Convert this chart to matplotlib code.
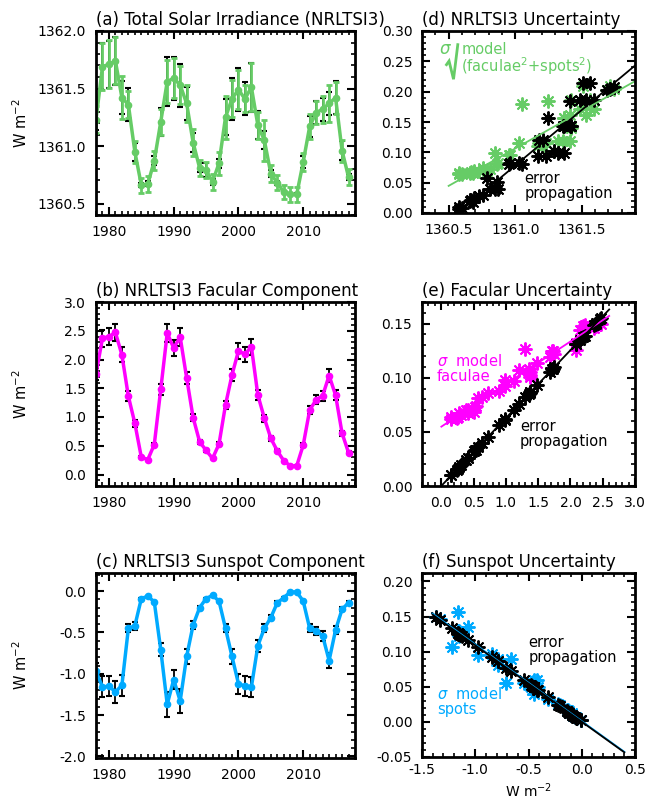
import matplotlib
matplotlib.use("Agg")
import matplotlib.pyplot as plt
from matplotlib.ticker import MultipleLocator, FormatStrFormatter
import numpy as np

years = np.arange(1978, 2018)

# (a) total solar irradiance, W m-2
tsi = [1361.23, 1361.69, 1361.71, 1361.74, 1361.42, 1361.36, 1360.95, 1360.66,
       1360.67, 1360.87, 1361.21, 1361.56, 1361.59, 1361.53, 1361.37, 1361.03,
       1360.81, 1360.79, 1360.69, 1360.85, 1361.25, 1361.41, 1361.49, 1361.41,
       1361.51, 1361.18, 1361.05, 1360.76, 1360.68, 1360.60, 1360.58, 1360.58,
       1360.86, 1361.17, 1361.29, 1361.32, 1361.37, 1361.42, 1360.96, 1360.73]
tsi_sig_prop = [0.094, 0.203, 0.205, 0.208, 0.143, 0.143, 0.080, 0.020,
                0.022, 0.039, 0.121, 0.214, 0.187, 0.187, 0.143, 0.082,
                0.040, 0.058, 0.025, 0.039, 0.157, 0.184, 0.187, 0.143,
                0.214, 0.121, 0.080, 0.030, 0.018, 0.008, 0.006, 0.010,
                0.051, 0.094, 0.102, 0.099, 0.099, 0.143, 0.083, 0.028]
tsi_sig_model = [0.116, 0.203, 0.209, 0.205, 0.187, 0.118, 0.096, 0.066,
                 0.068, 0.083, 0.110, 0.187, 0.171, 0.162, 0.157, 0.116,
                 0.072, 0.070, 0.069, 0.099, 0.185, 0.162, 0.171, 0.118,
                 0.209, 0.116, 0.179, 0.075, 0.066, 0.065, 0.064, 0.066,
                 0.080, 0.110, 0.102, 0.118, 0.157, 0.140, 0.096, 0.070]

# (b) facular component
fac = [1.75, 2.37, 2.40, 2.47, 2.08, 1.36, 0.89, 0.30, 0.26, 0.52,
       1.48, 2.46, 2.20, 2.39, 1.68, 0.99, 0.57, 0.42, 0.28, 0.53,
       1.21, 1.73, 2.15, 2.09, 2.22, 1.38, 0.98, 0.63, 0.41, 0.24,
       0.15, 0.15, 0.51, 1.12, 1.30, 1.37, 1.72, 1.38, 0.72, 0.38]
fac_sig_prop = [0.110, 0.149, 0.151, 0.155, 0.131, 0.085, 0.056, 0.019, 0.016, 0.033,
                0.093, 0.154, 0.138, 0.150, 0.105, 0.062, 0.036, 0.026, 0.018, 0.033,
                0.076, 0.108, 0.135, 0.131, 0.139, 0.087, 0.061, 0.040, 0.026, 0.015,
                0.010, 0.010, 0.032, 0.070, 0.082, 0.086, 0.108, 0.087, 0.045, 0.024]
fac_sig_model = [0.122, 0.146, 0.148, 0.150, 0.132, 0.108, 0.088, 0.066, 0.064, 0.073,
                 0.114, 0.151, 0.148, 0.149, 0.119, 0.092, 0.081, 0.070, 0.067, 0.074,
                 0.107, 0.125, 0.144, 0.126, 0.149, 0.103, 0.098, 0.082, 0.067, 0.063,
                 0.064, 0.062, 0.068, 0.097, 0.127, 0.101, 0.125, 0.105, 0.086, 0.070]

# (c) sunspot component
spot = [-0.97, -1.16, -1.15, -1.22, -1.14, -0.45, -0.42, -0.09, -0.06, -0.13,
        -0.71, -1.37, -1.07, -1.33, -0.79, -0.41, -0.20, -0.09, -0.05, -0.12,
        -0.45, -0.79, -1.12, -1.15, -1.16, -0.66, -0.45, -0.32, -0.14, -0.08,
        -0.01, -0.01, -0.12, -0.45, -0.48, -0.54, -0.84, -0.47, -0.22, -0.14]
spot_sig_prop = [0.106, 0.127, 0.125, 0.133, 0.124, 0.049, 0.046, 0.010, 0.007, 0.014,
                 0.077, 0.150, 0.117, 0.145, 0.086, 0.045, 0.022, 0.010, 0.006, 0.013,
                 0.049, 0.086, 0.122, 0.125, 0.126, 0.072, 0.049, 0.035, 0.015, 0.009,
                 0.002, 0.002, 0.013, 0.049, 0.052, 0.059, 0.092, 0.051, 0.024, 0.015]
spot_sig_model = [0.095, 0.156, 0.129, 0.106, 0.128, 0.045, 0.060, 0.010, 0.007, 0.017,
                  0.055, 0.150, 0.135, 0.146, 0.090, 0.050, 0.024, 0.012, 0.007, 0.015,
                  0.055, 0.081, 0.125, 0.123, 0.130, 0.089, 0.040, 0.033, 0.016, 0.009,
                  0.003, 0.002, 0.013, 0.060, 0.049, 0.055, 0.097, 0.045, 0.026, 0.017]

GREEN = "#66cc66"
MAGENTA = "#ff00ff"
BLUE = "#00aaff"

plt.rcParams["font.family"] = "DejaVu Sans"
plt.rcParams["mathtext.fontset"] = "dejavusans"

fig = plt.figure(figsize=(6.46, 7.99), dpi=100)

W, H = 646.0, 799.0
TFS = 12      # titles
AFS = 10.5    # annotations


def make_axes(left, right, top, bottom):
    return fig.add_axes([left / W, 1 - bottom / H, (right - left) / W, (bottom - top) / H])


def style(ax, xmaj, xmin, ymaj, ymin, xfmt, yfmt):
    ax.xaxis.set_major_locator(MultipleLocator(xmaj))
    ax.xaxis.set_minor_locator(MultipleLocator(xmin))
    ax.yaxis.set_major_locator(MultipleLocator(ymaj))
    ax.yaxis.set_minor_locator(MultipleLocator(ymin))
    ax.xaxis.set_major_formatter(FormatStrFormatter(xfmt))
    ax.yaxis.set_major_formatter(FormatStrFormatter(yfmt))
    ax.tick_params(which="both", direction="in", top=True, right=True, labelsize=10)
    ax.tick_params(which="major", length=6, width=1.5, pad=7)
    ax.tick_params(which="minor", length=3, width=1.2)
    for s in ax.spines.values():
        s.set_linewidth(2)


def time_panel(ax, vals, sig_prop, color, title, ylim, ymaj, sig_model=None):
    ax.errorbar(years, vals, yerr=sig_prop, fmt="none", ecolor="k",
                elinewidth=1.3, capsize=2.5, capthick=1.5)
    if sig_model is not None:
        ax.errorbar(years, vals, yerr=sig_model, fmt="none", ecolor=color,
                    elinewidth=2, capsize=2.5, capthick=2)
    ax.plot(years, vals, color=color, lw=2.5, marker="o", ms=4.5)
    ax.set_xlim(1978, 2018)
    ax.set_ylim(*ylim)
    style(ax, 10, 1, ymaj, 0.1, "%d", "%.1f")
    ax.set_title(title, loc="left", fontsize=TFS, pad=4)
    ax.set_ylabel("W m$^{-2}$", fontsize=AFS)
    ax.yaxis.set_label_coords(-0.255, 0.5)


def scatter_panel(ax, x, y_model, y_prop, color, fit_range, title, xlim, ylim,
                  xmaj, xmin, ymaj, ymin, xfmt, yfmt):
    ast = (8, 2, 0)
    ax.plot(x, y_model, ls="none", marker=ast, ms=10, mew=1.4, color=color)
    ax.plot(x, y_prop, ls="none", marker=ast, ms=10, mew=1.4, color="k")
    xx = np.linspace(*fit_range, 50)
    ax.plot(xx, np.polyval(np.polyfit(x, y_model, 1), xx), color=color, lw=1.3)
    ax.plot(xx, np.polyval(np.polyfit(x, y_prop, 1), xx), color="k", lw=1.3)
    ax.set_xlim(*xlim)
    ax.set_ylim(*ylim)
    style(ax, xmaj, xmin, ymaj, ymin, xfmt, yfmt)
    ax.set_title(title, loc="left", fontsize=TFS, pad=4)


L0, L1 = 96, 355
R0, R1 = 422, 635

ax_a = make_axes(L0, L1, 31, 215)
time_panel(ax_a, tsi, tsi_sig_prop, GREEN, "(a) Total Solar Irradiance (NRLTSI3)",
           (1360.4, 1362.0), 0.5, sig_model=tsi_sig_model)

ax_b = make_axes(L0, L1, 302, 486)
time_panel(ax_b, fac, fac_sig_prop, MAGENTA, "(b) NRLTSI3 Facular Component",
           (-0.2, 3.0), 0.5)

ax_c = make_axes(L0, L1, 573, 758)
time_panel(ax_c, spot, spot_sig_prop, BLUE, "(c) NRLTSI3 Sunspot Component",
           (-2.02, 0.22), 0.5)

ax_d = make_axes(R0, R1, 31, 213)
scatter_panel(ax_d, tsi, tsi_sig_model, tsi_sig_prop, GREEN, (1360.5, 1362.0),
              "(d) NRLTSI3 Uncertainty", (1360.3, 1361.9), (0.0, 0.30),
              0.5, 0.1, 0.05, 0.01, "%.1f", "%.2f")
ax_d.text(0.08, 0.90, r"$\sigma$", transform=ax_d.transAxes, color=GREEN,
          fontsize=12, fontweight="bold", va="center")
# radical sign drawn as a stroke in axes coordinates
ax_d.plot([0.115, 0.127, 0.148, 0.168], [0.815, 0.835, 0.735, 0.925],
          transform=ax_d.transAxes, color=GREEN, lw=2, solid_joinstyle="miter")
ax_d.text(0.185, 0.90, "model", transform=ax_d.transAxes,
          color=GREEN, fontsize=AFS, va="center")
ax_d.text(0.185, 0.805, "(faculae$^2$+spots$^2$)", transform=ax_d.transAxes,
          color=GREEN, fontsize=AFS, va="center")
ax_d.text(0.48, 0.15, "error\npropagation", transform=ax_d.transAxes, color="k",
          fontsize=AFS, va="center", linespacing=1.0)

ax_e = make_axes(R0, R1, 302, 486)
scatter_panel(ax_e, fac, fac_sig_model, fac_sig_prop, MAGENTA, (0.0, 2.6),
              "(e) Facular Uncertainty", (-0.3, 3.0), (0.0, 0.17),
              0.5, 0.1, 0.05, 0.01, "%.1f", "%.2f")
ax_e.text(0.07, 0.64, r"$\sigma$  model" + "\nfaculae", transform=ax_e.transAxes,
          color=MAGENTA, fontsize=AFS, va="center", linespacing=1.0)
ax_e.text(0.46, 0.28, "error\npropagation", transform=ax_e.transAxes, color="k",
          fontsize=AFS, va="center", linespacing=1.0)

ax_f = make_axes(R0, R1, 573, 757)
scatter_panel(ax_f, spot, spot_sig_model, spot_sig_prop, BLUE, (-1.4, 0.4),
              "(f) Sunspot Uncertainty", (-1.5, 0.5), (-0.05, 0.212),
              0.5, 0.1, 0.05, 0.01, "%.1f", "%.2f")
ax_f.tick_params(axis="x", which="major", pad=4)
ax_f.text(0.50, 0.58, "error\npropagation", transform=ax_f.transAxes, color="k",
          fontsize=AFS, va="center", linespacing=1.0)
ax_f.text(0.07, 0.30, r"$\sigma$  model" + "\nspots", transform=ax_f.transAxes,
          color=BLUE, fontsize=AFS, va="center", linespacing=1.0)
ax_f.set_xlabel("W m$^{-2}$", fontsize=10)
ax_f.xaxis.set_label_coords(0.5, -0.135)

fig.savefig("out.png", dpi=100)
